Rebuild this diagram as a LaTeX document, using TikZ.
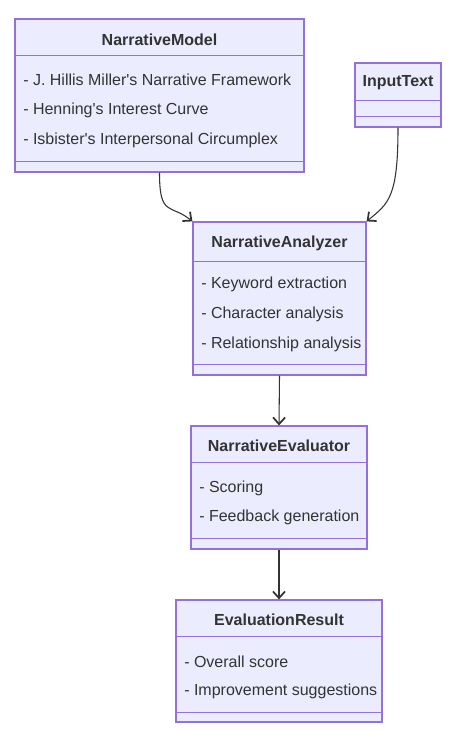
\documentclass[tikz,border=0pt]{standalone}
\usepackage{fontspec}
\setmainfont{Liberation Sans}
\usetikzlibrary{arrows.meta,positioning,calc}
\definecolor{cFill}{HTML}{ECECFF}
\definecolor{cBorder}{HTML}{9370DB}
\definecolor{cText}{HTML}{333333}
\definecolor{cLine}{HTML}{333333}
\newcommand{\sq}{\textquotesingle}
\tikzset{
    cls/.style={rectangle, draw=cBorder, fill=cFill, line width=0.9pt,
        inner sep=0pt},
    ctitle/.style={font=\fontsize{12}{14}\selectfont\bfseries, text=cText,
        inner sep=0pt},
    cmember/.style={font=\fontsize{12}{14}\selectfont, text=cText,
        anchor=west, inner sep=0pt},
    sep/.style={draw=cBorder, line width=0.9pt},
    dep/.style={-{Straight Barb[length=5pt,width=9pt,line width=1.3pt]},
        draw=cLine, line width=0.8pt},
}

\begin{document}
\begin{tikzpicture}[x=0.75pt, y=-0.75pt]
\useasboundingbox (0,0) rectangle (461,737);

% ================================================================
%  NarrativeModel
% ================================================================
\node[cls, minimum width=289*0.75pt, minimum height=153*0.75pt]
    at (159.5,95.5) (nm) {};
\node[ctitle] at (159.5,40) (nmt) {NarrativeModel};
\draw[sep] ($(nm.north west)+(0,37)$) -- ($(nm.north east)+(0,37)$);
\node[cmember] at (23,80)  (nm1) {- J. Hillis Miller\sq s Narrative Framework};
\node[cmember] at (23,110) (nm2) {- Henning\sq s Interest Curve};
\node[cmember] at (23,140) (nm3) {- Isbister\sq s Interpersonal Circumplex};
\draw[sep] ($(nm.south west)+(0,-11)$) -- ($(nm.south east)+(0,-11)$);

% ================================================================
%  InputText
% ================================================================
\node[cls, minimum width=86*0.75pt, minimum height=64*0.75pt]
    at (398,95) (it) {};
\node[ctitle] at (398,83) (itt) {InputText};
\draw[sep] ($(it.north west)+(0,38)$) -- ($(it.north east)+(0,38)$);
\draw[sep] ($(it.south west)+(0,-11)$) -- ($(it.south east)+(0,-11)$);

% ================================================================
%  NarrativeAnalyzer
% ================================================================
\node[cls, minimum width=173*0.75pt, minimum height=153*0.75pt]
    at (279.5,298.5) (na) {};
\node[ctitle] at (279.5,243) (nat) {NarrativeAnalyzer};
\draw[sep] ($(na.north west)+(0,40)$) -- ($(na.north east)+(0,40)$);
\node[cmember] at (201,284) (na1) {- Keyword extraction};
\node[cmember] at (201,314) (na2) {- Character analysis};
\node[cmember] at (201,344) (na3) {- Relationship analysis};
\draw[sep] ($(na.south west)+(0,-11)$) -- ($(na.south east)+(0,-11)$);

% ================================================================
%  NarrativeEvaluator
% ================================================================
\node[cls, minimum width=176*0.75pt, minimum height=123*0.75pt]
    at (279,487.5) (ne) {};
\node[ctitle] at (279,446) (net) {NarrativeEvaluator};
\draw[sep] ($(ne.north west)+(0,37)$) -- ($(ne.north east)+(0,37)$);
\node[cmember] at (199,488) (ne1) {- Scoring};
\node[cmember] at (199,517) (ne2) {- Feedback generation};
\draw[sep] ($(ne.south west)+(0,-11)$) -- ($(ne.south east)+(0,-11)$);

% ================================================================
%  EvaluationResult
% ================================================================
\node[cls, minimum width=206*0.75pt, minimum height=122*0.75pt]
    at (279,661) (er) {};
\node[ctitle] at (279,620) (ert) {EvaluationResult};
\draw[sep] ($(er.north west)+(0,37)$) -- ($(er.north east)+(0,37)$);
\node[cmember] at (184,662) (er1) {- Overall score};
\node[cmember] at (184,691) (er2) {- Improvement suggestions};
\draw[sep] ($(er.south west)+(0,-10)$) -- ($(er.south east)+(0,-10)$);

% ================================================================
%  Connectors
% ================================================================
\draw[dep] (nm.south) .. controls +(0,45) and +(-22,-18) .. (na.north west);
\draw[dep] (it.south) .. controls +(0,70) and +(22,-18) .. (na.north east);
\draw[dep] (na.south) -- (ne.north);
\draw[dep] (ne.south) -- (er.north);

\end{tikzpicture}
\end{document}
